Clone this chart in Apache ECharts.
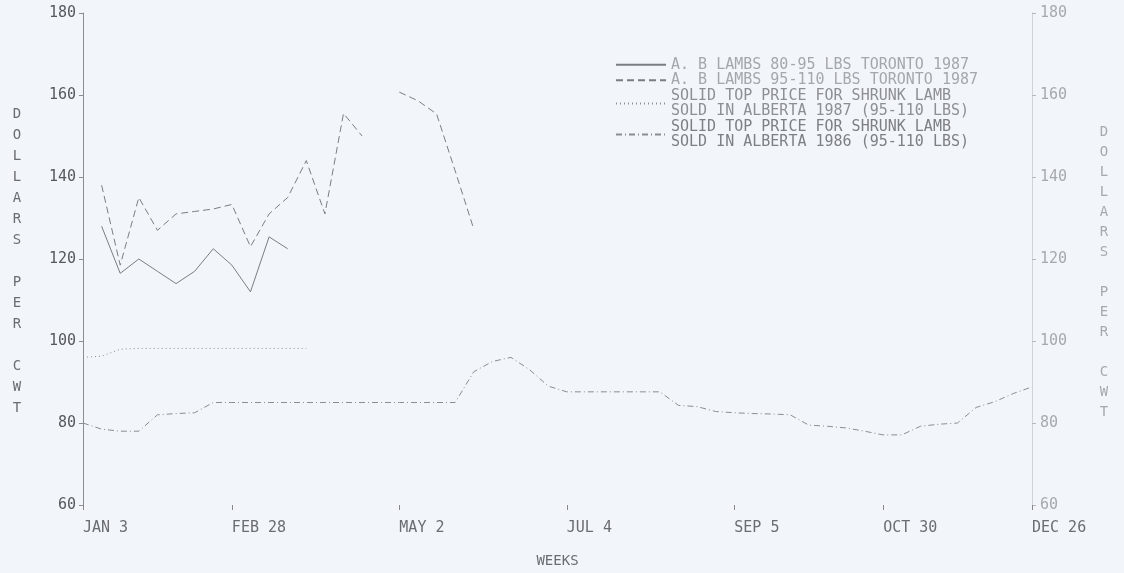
<!DOCTYPE html>
<html>
<head>
<meta charset="utf-8">
<script src="https://cdn.jsdelivr.net/npm/echarts@6/dist/echarts.min.js"></script>
<style>
  html, body { margin: 0; padding: 0; background: #f2f5f9; }
  #chart { width: 1124px; height: 573px; }
</style>
</head>
<body>
<div id="chart"></div>
<script>
// weeks of 1987, as plotted
const weeks = [
  'JAN 3', 'JAN 10', 'JAN 17', 'JAN 24', 'JAN 31', 'FEB 7', 'FEB 14', 'FEB 21', 'FEB 28',
  'MAR 7', 'MAR 14', 'MAR 21', 'MAR 28', 'APR 4', 'APR 11', 'APR 18', 'APR 25', 'MAY 2',
  'MAY 9', 'MAY 16', 'MAY 23', 'MAY 30', 'JUN 6', 'JUN 13', 'JUN 20', 'JUN 27', 'JUL 4',
  'JUL 11', 'JUL 18', 'JUL 25', 'AUG 1', 'AUG 8', 'AUG 15', 'AUG 22', 'AUG 29', 'SEP 5',
  'SEP 12', 'SEP 19', 'SEP 26', 'OCT 3', 'OCT 10', 'OCT 17', 'OCT 24', 'OCT 30', 'NOV 7',
  'NOV 14', 'NOV 21', 'NOV 28', 'DEC 5', 'DEC 12', 'DEC 19', 'DEC 26'
];
const tickWeeks = ['JAN 3', 'FEB 28', 'MAY 2', 'JUL 4', 'SEP 5', 'OCT 30', 'DEC 26'];

const seriesNames = [
  'A. B LAMBS 80-95 LBS TORONTO 1987',
  'A. B LAMBS 95-110 LBS TORONTO 1987',
  'SOLID TOP PRICE FOR SHRUNK LAMB\nSOLD IN ALBERTA 1987 (95-110 LBS)',
  'SOLID TOP PRICE FOR SHRUNK LAMB\nSOLD IN ALBERTA 1986 (95-110 LBS)'
];

// dollars per cwt, one value per week (null = not plotted)
const toronto80to95 = [
  null, 128, 116.5, 120, 117, 114, 117, 122.5, 118.5, 112, 125.4, 122.5,
  null, null, null, null, null, null, null, null, null, null, null, null, null, null,
  null, null, null, null, null, null, null, null, null, null, null, null, null, null,
  null, null, null, null, null, null, null, null, null, null, null, null
];
const toronto95to110 = [
  null, 138, 118.5, 135, 127, 131, 131.6, 132.2, 133.3, 123, 131, 135, 144, 131, 155.5, 150,
  null, 160.7, 158.6, 155.4, 141.5, 127.3,
  null, null, null, null, null, null, null, null, null, null, null, null, null, null,
  null, null, null, null, null, null, null, null, null, null, null, null, null, null, null, null
];
const alberta1987 = [
  96, 96.3, 98, 98.2, 98.2, 98.2, 98.2, 98.2, 98.2, 98.2, 98.2, 98.2, 98.2,
  null, null, null, null, null, null, null, null, null, null, null, null, null,
  null, null, null, null, null, null, null, null, null, null, null, null, null,
  null, null, null, null, null, null, null, null, null, null, null, null, null
];
const alberta1986 = [
  80, 78.5, 78, 78, 82, 82.3, 82.5, 85, 85, 85, 85, 85, 85, 85, 85, 85, 85, 85, 85, 85,
  85, 92.5, 95, 96, 93, 89, 87.6, 87.6, 87.6, 87.6, 87.6, 87.6, 84.3, 84, 82.8, 82.5,
  82.3, 82.2, 82, 79.5, 79.2, 78.8, 78, 77.1, 77.1, 79.2, 79.7, 80, 83.8, 85.2, 87.2, 88.8
];

const plotFont = '"DejaVu Sans Mono", "Liberation Mono", monospace';
const showWeek = (index, value) => tickWeeks.includes(value);

const chart = echarts.init(document.getElementById('chart'));

const option = {
  backgroundColor: '#f2f5f9',
  animation: false,
  grid: { left: 83, right: 92, top: 13, bottom: 61 },
  legend: {
    orient: 'vertical',
    left: 610,
    top: 52,
    itemWidth: 50,
    itemHeight: 10,
    itemGap: 0,
    selectedMode: false,
    itemStyle: { opacity: 0 },
    textStyle: { fontFamily: plotFont, fontSize: 15, lineHeight: 15.5, color: '#888' },
    data: [
      { name: seriesNames[0], textStyle: { color: '#a4a7ac' } },
      { name: seriesNames[1], textStyle: { color: '#a4a7ac' } },
      { name: seriesNames[2], textStyle: { color: '#8c8f94' } },
      { name: seriesNames[3], textStyle: { color: '#7c7f84' } }
    ]
  },
  xAxis: {
    type: 'category',
    data: weeks,
    boundaryGap: false,
    axisLine: { show: false },
    axisTick: { interval: showWeek, length: 5, lineStyle: { color: '#888' } },
    axisLabel: {
      interval: showWeek,
      align: 'left',
      margin: 16,
      fontFamily: plotFont,
      fontSize: 15,
      color: '#6a6d72'
    },
    name: 'WEEKS',
    nameLocation: 'middle',
    nameGap: 49,
    nameTextStyle: { fontFamily: plotFont, fontSize: 14, color: '#6a6d72' }
  },
  yAxis: [
    {
      type: 'value',
      min: 60,
      max: 180,
      interval: 20,
      axisLine: { show: true, lineStyle: { color: '#8a8d92' } },
      axisTick: { show: true, length: 4, lineStyle: { color: '#8a8d92' } },
      axisLabel: { margin: 7, fontFamily: plotFont, fontSize: 15, color: '#55585d' },
      splitLine: { show: false }
    },
    {
      type: 'value',
      position: 'right',
      min: 60,
      max: 180,
      interval: 20,
      axisLine: { show: true, lineStyle: { color: '#d0d3d8' } },
      axisTick: { show: true, length: 4, lineStyle: { color: '#b4b7bc' } },
      axisLabel: { margin: 8, fontFamily: plotFont, fontSize: 15, color: '#a6a9ae' },
      splitLine: { show: false }
    }
  ],
  graphic: [
    {
      type: 'text',
      style: {
        x: 17, y: 261,
        text: 'D\nO\nL\nL\nA\nR\nS\n\nP\nE\nR\n\nC\nW\nT',
        align: 'center', verticalAlign: 'middle',
        font: '14px ' + plotFont,
        lineHeight: 21,
        fill: '#6a6d72'
      }
    },
    {
      type: 'text',
      style: {
        x: 1104, y: 272,
        text: 'D\nO\nL\nL\nA\nR\nS\n\nP\nE\nR\n\nC\nW\nT',
        align: 'center', verticalAlign: 'middle',
        font: '14px ' + plotFont,
        lineHeight: 20,
        fill: '#a6a9ae'
      }
    }
  ],
  series: [
    {
      name: seriesNames[0], type: 'line', data: toronto80to95, symbol: 'none',
      itemStyle: { color: '#7a7d82' },
      lineStyle: { color: '#7a7d82', width: 1, type: 'solid' }
    },
    {
      name: seriesNames[1], type: 'line', data: toronto95to110, symbol: 'none',
      itemStyle: { color: '#7a7d82' },
      lineStyle: { color: '#7a7d82', width: 1, type: [7, 4] }
    },
    {
      name: seriesNames[2], type: 'line', data: alberta1987, symbol: 'none',
      itemStyle: { color: '#8a8d92' },
      lineStyle: { color: '#8a8d92', width: 1, type: [1, 3] }
    },
    {
      name: seriesNames[3], type: 'line', data: alberta1986, symbol: 'none',
      itemStyle: { color: '#8a8d92' },
      lineStyle: { color: '#8a8d92', width: 1, type: [6, 3, 1, 3] }
    }
  ]
};

chart.setOption(option);
</script>
</body>
</html>
